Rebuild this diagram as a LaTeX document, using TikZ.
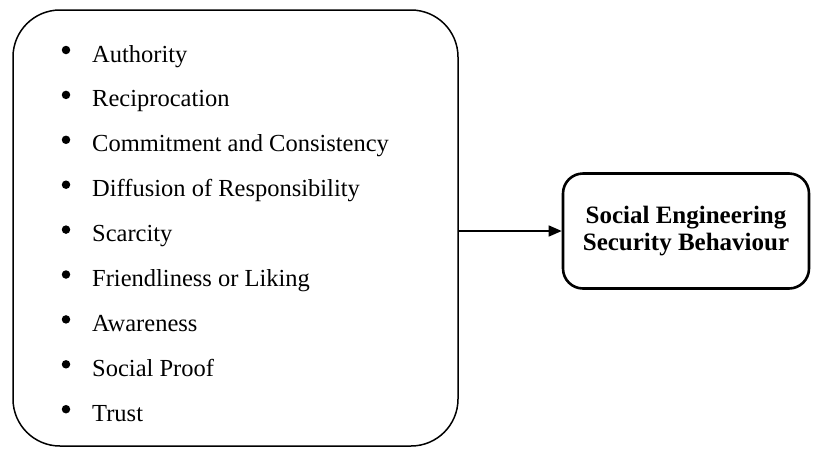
\documentclass[tikz,border=0pt]{standalone}
\usepackage{fontspec}
\setmainfont{Liberation Serif}
\usetikzlibrary{arrows.meta}
\begin{document}
\begin{tikzpicture}[x=1pt,y=-1pt,
  itemtxt/.style={anchor=base west,inner sep=0pt,font=\fontsize{24.5}{27}\selectfont},
  bul/.style={circle,fill=black,inner sep=0pt,minimum size=8.5pt},
  outerbox/.style={draw=black,line width=1.5pt,rounded corners=47pt},
  targetbox/.style={draw=black,line width=2.6pt,rounded corners=20pt,minimum width=246pt,minimum height=115pt,align=center,font=\fontsize{25}{27}\selectfont\bfseries},
  conn/.style={line width=1.4pt,-{Triangle[length=13pt,width=11pt]}}]
\useasboundingbox (0,0) rectangle (813,448);
\draw[outerbox] (13,10) rectangle (458,446);
\coordinate (L) at (458,231);
\foreach \t [count=\i from 0] in {Authority,Reciprocation,Commitment and Consistency,Diffusion of Responsibility,Scarcity,Friendliness or Liking,Awareness,Social Proof,Trust}{
  \node[bul] (b\i) at (66,{50+44.9*\i}) {};
  \node[itemtxt] (t\i) at (92,{62+44.9*\i}) {\t};
}
\node[targetbox] (R) at (686,231) {Social Engineering\\Security Behaviour};
\draw[conn] (L) -- (R.west);
\end{tikzpicture}
\end{document}
